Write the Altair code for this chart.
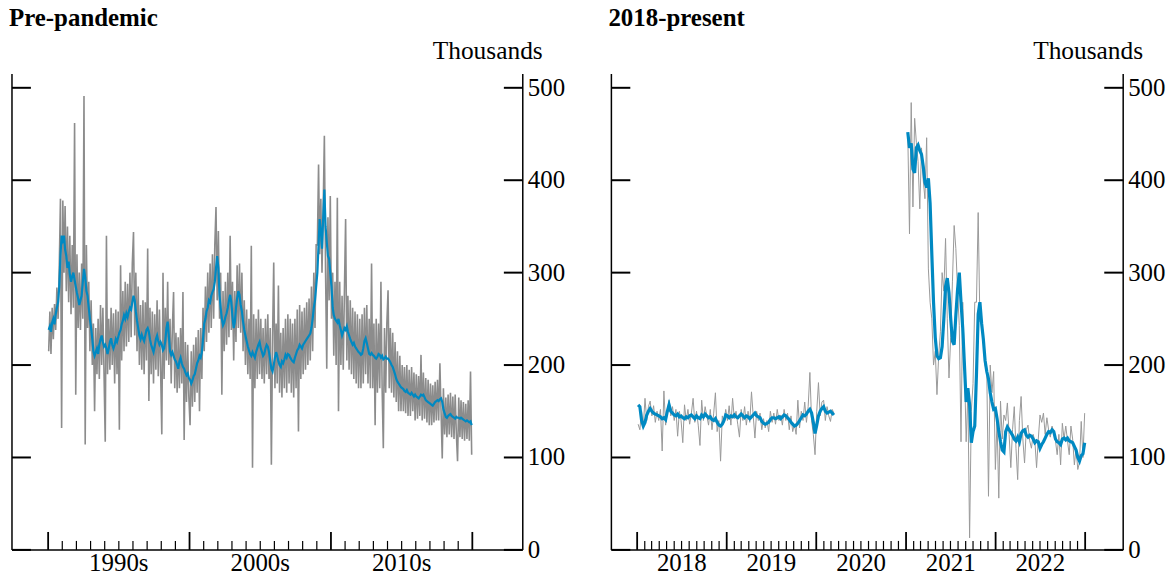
import altair as alt
import pandas as pd

FONT = "Liberation Serif"
BLUE = "#0089c2"
GRAY = "#8c8c8c"

# ---------------- data: pre-pandemic (monthly readings, thousands) ----------------
pre_gray = [
    215, 258, 212, 262, 228, 266, 238, 284, 250, 305, 380, 132,
    378, 300, 372, 280, 350, 268, 340, 255, 330, 262, 462, 168,
    320, 240, 300, 238, 310, 250, 491, 114, 330, 240, 290, 215,
    270, 200, 245, 150, 240, 190, 250, 185, 265, 200, 262, 190,
    117, 340, 190, 250, 195, 262, 200, 256, 180, 260, 190, 258,
    130, 308, 205, 280, 215, 290, 220, 288, 225, 300, 230, 310,
    344, 232, 300, 215, 285, 200, 265, 195, 270, 190, 268, 205,
    326, 161, 262, 190, 258, 180, 255, 195, 270, 188, 260, 195,
    125, 300, 185, 262, 205, 290, 200, 250, 180, 240, 279, 175,
    235, 170, 230, 175, 240, 180, 279, 119, 225, 160, 222, 165,
    135, 215, 155, 222, 160, 230, 170, 238, 150, 240, 185, 262,
    215, 285, 225, 300, 235, 310, 240, 320, 250, 330, 371, 270,
    345, 250, 300, 168, 280, 215, 290, 222, 300, 230, 340, 238,
    290, 205, 280, 225, 308, 240, 310, 235, 300, 215, 270, 200,
    260, 190, 250, 185, 329, 89, 255, 175, 250, 185, 260, 190,
    250, 185, 240, 180, 250, 190, 255, 185, 240, 92, 230, 311,
    175, 245, 180, 286, 170, 235, 165, 240, 175, 250, 170, 255,
    180, 250, 170, 245, 165, 250, 175, 260, 128, 265, 185, 258,
    190, 262, 195, 268, 200, 272, 205, 285, 215, 300, 240, 330,
    330, 417, 320, 380, 300, 370, 448, 300, 196, 360, 270, 383,
    250, 300, 210, 290, 200, 381, 150, 290, 200, 275, 195, 280,
    358, 205, 275, 195, 270, 190, 262, 185, 258, 180, 255, 175,
    250, 175, 255, 180, 262, 190, 265, 180, 250, 175, 310, 175,
    245, 135, 250, 170, 245, 175, 290, 175, 110, 240, 170, 245,
    281, 175, 240, 170, 235, 165, 225, 160, 215, 150, 210, 150,
    200, 150, 198, 148, 200, 145, 195, 145, 198, 150, 192, 140,
    190, 142, 188, 145, 211, 140, 192, 142, 186, 138, 184, 135,
    180, 135, 178, 138, 182, 140, 184, 140, 202, 150, 99, 175,
    125, 165, 122, 168, 125, 170, 122, 166, 120, 168, 125, 96,
    165, 122, 162, 120, 160, 118, 158, 120, 162, 118, 193, 103,
]

pre_blue = [
    238, 242, 236, 246, 250, 244, 255, 262, 268, 285, 318, 340,
    335, 340, 325, 318, 305, 312, 298, 290, 296, 300, 292, 285,
    278, 272, 265, 270, 275, 290, 304, 295, 280, 275, 262, 250,
    240, 228, 215, 210, 214, 218, 212, 222, 228, 232, 225, 220,
    222, 218, 212, 218, 225, 229, 222, 218, 222, 228, 225, 230,
    235, 238, 244, 248, 254, 250, 256, 252, 258, 262, 260, 268,
    275, 270, 258, 248, 240, 232, 228, 233, 229, 226, 232, 238,
    240, 236, 228, 222, 218, 214, 220, 228, 232, 226, 222, 225,
    222, 216, 218, 226, 240, 247, 232, 215, 211, 214, 210, 206,
    204, 200, 196, 204, 208, 202, 198, 196, 192, 189, 191, 186,
    184, 180, 183, 188, 190, 196, 202, 205, 210, 208, 214, 228,
    245, 250, 258, 262, 270, 268, 275, 279, 282, 290, 305, 318,
    305, 275, 262, 250, 243, 246, 252, 256, 262, 270, 276, 268,
    252, 240, 246, 262, 272, 280, 276, 265, 258, 247, 238, 232,
    226, 220, 216, 212, 210, 214, 211, 208, 214, 218, 222, 225,
    218, 214, 210, 212, 218, 222, 220, 214, 205, 196, 193, 200,
    208, 214, 210, 204, 200, 198, 204, 202, 206, 211, 208, 212,
    211, 208, 206, 204, 203, 208, 212, 216, 218, 222, 220, 218,
    222, 224, 226, 228, 230, 232, 234, 240, 250, 262, 270, 285,
    300, 330, 358, 345, 326, 360, 390, 350, 333, 318, 315, 300,
    285, 262, 254, 250, 248, 246, 250, 243, 238, 232, 236, 240,
    238, 242, 236, 232, 228, 225, 222, 224, 220, 218, 216, 214,
    213, 211, 212, 218, 226, 229, 224, 218, 212, 211, 213, 211,
    210, 208, 207, 209, 212, 211, 208, 210, 206, 207, 209, 207,
    207, 205, 203, 200, 198, 194, 190, 185, 182, 180, 178, 176,
    175, 174, 172, 171, 173, 170, 169, 168, 170, 168, 166, 168,
    166, 165, 164, 166, 168, 167, 168, 165, 162, 161, 160, 159,
    158, 157, 156, 158, 160, 161, 162, 161, 163, 164, 160, 152,
    148, 144, 143, 145, 146, 147, 145, 144, 143, 142, 144, 143,
    143, 142, 143, 142, 141, 140, 139, 140, 139, 138, 139, 135,
]

# ---------------- data: 2018-present (weekly readings, thousands) ----------------
post1_gray = [
    136, 130, 150, 133, 164, 140, 155, 161, 145, 156, 138, 150, 140, 152, 107, 172,
    135, 150, 162, 145, 155, 140, 152, 123, 150, 140, 116, 157, 140, 152, 136, 148,
    164, 138, 150, 135, 113, 162, 140, 155, 145, 135, 152, 130, 148, 170, 128, 140,
    96, 145, 138, 152, 140, 156, 135, 164, 142, 150, 136, 122, 152, 140, 155, 135,
    150, 138, 171, 145, 121, 150, 140, 148, 130, 142, 132, 140, 128, 150, 138, 148,
    136, 152, 140, 146, 135, 152, 140, 148, 130, 145, 128, 136, 125, 162, 132, 150,
    140, 160, 138, 155, 192, 140, 125, 103, 150, 181, 145, 160, 162, 140, 155, 145,
    139, 152, 148,
]
post1_blue = [
    157, 155, 140, 134, 138, 146, 150, 153, 150, 148, 147, 146, 145, 144, 142, 143,
    141, 150, 157, 150, 148, 146, 145, 147, 144, 145, 143, 142, 144, 143, 145, 146,
    144, 142, 145, 143, 142, 146, 144, 147, 145, 143, 144, 141, 140, 142, 138, 135,
    134, 136, 140, 146, 145, 143, 145, 144, 146, 144, 143, 145, 147, 145, 143, 145,
    144, 142, 144, 146, 148, 145, 144, 143, 139, 137, 136, 137, 138, 141, 143, 143,
    142, 143, 144, 142, 144, 146, 145, 143, 141, 138, 136, 134, 135, 137, 140, 143,
    146, 145, 147, 150, 152, 148, 138, 126, 135, 145, 150, 153, 155, 150, 148, 149,
    150, 148, 146,
]
post2_gray = [
    451, 342, 484, 371, 467, 441, 420, 369, 435, 400, 380, 446, 304, 268, 250, 200,
    215, 168, 210, 236, 300, 280, 337, 250, 186, 230, 290, 351, 326, 280, 243, 117,
    268, 200, 117, 170, 13, 150, 180, 268, 268, 365, 247, 250, 230, 200, 193, 58,
    200, 170, 193, 87, 140, 56, 161, 120, 146, 140, 159, 125, 89, 130, 155, 110,
    76, 140, 166, 120, 94, 130, 135, 118, 110, 125, 118, 89, 120, 146, 138, 148,
    125, 143, 130, 122, 134, 128, 118, 103, 125, 92, 137, 120, 134, 118, 103, 134,
    120, 92, 110, 87, 95, 139, 100, 148,
]
post2_blue = [
    452, 435, 440, 412, 408, 435, 438, 432, 428, 415, 398, 392, 402, 375, 320, 268,
    230, 210, 207, 208, 220, 250, 285, 294, 278, 250, 226, 222, 254, 282, 300, 268,
    240, 200, 160, 175, 157, 116, 128, 134, 190, 255, 268, 245, 228, 205, 193, 185,
    170, 160, 152, 153, 142, 128, 117, 108, 106, 128, 133, 130, 127, 124, 120, 118,
    122, 117, 126, 129, 130, 124, 122, 124, 123, 120, 116, 118, 117, 110, 114, 117,
    121, 125, 128, 127, 130, 128, 120, 117, 116, 114, 120, 121, 119, 121, 118, 117,
    116, 112, 108, 100, 96, 102, 104, 116,
]

# axis content
Y_TICKS = [0, 100, 200, 300, 400, 500]
Y_TOP = 515
PRE_MAJOR_YEARS = [1990, 2000, 2010, 2020]
PRE_MINOR_YEARS = [y for y in range(1991, 2020) if y % 10 != 0]
PRE_LABELS = ["1990s", "2000s", "2010s"]
PRE_LABEL_DATES = ["1995-01-01", "2005-01-01", "2015-01-01"]
POST_MAJOR_YEARS = [2018, 2019, 2020, 2021, 2022, 2023]
POST_MINOR_MONTHS = [(y, m) for y in range(2018, 2023) for m in range(2, 13)]
POST_LABELS = ["2018", "2019", "2020", "2021", "2022"]
POST_LABEL_DATES = ["2018-07-02", "2019-07-02", "2020-07-02", "2021-07-02", "2022-07-02"]
UNIT_LABEL = "Thousands"

H = 478
W_LEFT = 513
W_RIGHT = 514

# ---------------- frames ----------------
pre_dates = pd.date_range("1990-01-01", periods=len(pre_gray), freq="MS") + pd.Timedelta(days=14)
pre_gray_df = pd.DataFrame({"date": pre_dates, "value": pre_gray, "seg": "a"})
pre_blue_df = pd.DataFrame({"date": pre_dates[:len(pre_blue)], "value": pre_blue, "seg": "a"})

d1 = pd.date_range("2018-01-05", periods=len(post1_gray), freq="W-FRI")
d2 = pd.date_range("2021-01-08", periods=len(post2_gray), freq="W-FRI")
post_gray_df = pd.concat([
    pd.DataFrame({"date": d1, "value": post1_gray, "seg": "a"}),
    pd.DataFrame({"date": d2, "value": post2_gray, "seg": "b"}),
])
post_blue_df = pd.concat([
    pd.DataFrame({"date": d1[:len(post1_blue)], "value": post1_blue, "seg": "a"}),
    pd.DataFrame({"date": d2[:len(post2_blue)], "value": post2_blue, "seg": "b"}),
])

pre_major_df = pd.DataFrame({"date": pd.to_datetime([f"{y}-01-01" for y in PRE_MAJOR_YEARS])})
pre_minor_df = pd.DataFrame({"date": pd.to_datetime([f"{y}-01-01" for y in PRE_MINOR_YEARS])})
post_major_df = pd.DataFrame({"date": pd.to_datetime([f"{y}-01-01" for y in POST_MAJOR_YEARS])})
post_minor_df = pd.DataFrame({"date": pd.to_datetime([f"{y}-{m:02d}-01" for y, m in POST_MINOR_MONTHS])})
pre_label_df = pd.DataFrame({"date": pd.to_datetime(PRE_LABEL_DATES), "label": PRE_LABELS})
post_label_df = pd.DataFrame({"date": pd.to_datetime(POST_LABEL_DATES), "label": POST_LABELS})
ytick_df = pd.DataFrame({"v": Y_TICKS})
one_df = pd.DataFrame({"a": [0]})


def panel(title, gray_df, blue_df, x_domain, major_df, minor_df, label_df,
          W, gray_w, blue_w, gray_col):
    xs = alt.Scale(domain=x_domain)
    ys = alt.Scale(domain=[0, Y_TOP], nice=False, zero=True)
    X = lambda: alt.X("date:T", scale=xs, axis=None)
    gray = alt.Chart(gray_df).mark_line(color=gray_col, strokeWidth=gray_w).encode(
        x=X(), y=alt.Y("value:Q", scale=ys, axis=None), detail="seg:N")
    blue = alt.Chart(blue_df).mark_line(color=BLUE, strokeWidth=blue_w).encode(
        x=X(), y=alt.Y("value:Q", scale=ys, axis=None), detail="seg:N")
    base1 = alt.Chart(one_df)
    left_line = base1.mark_rule(color="black", strokeWidth=1.5).encode(
        x=alt.value(0), y=alt.value(0), y2=alt.value(H))
    right_line = base1.mark_rule(color="black", strokeWidth=1.5).encode(
        x=alt.value(W), y=alt.value(0), y2=alt.value(H))
    bottom_line = base1.mark_rule(color="black", strokeWidth=1.5).encode(
        x=alt.value(0), x2=alt.value(W), y=alt.value(H))
    yt_left = alt.Chart(ytick_df).mark_rule(color="black", strokeWidth=2).encode(
        y=alt.Y("v:Q", scale=ys, axis=None), x=alt.value(0), x2=alt.value(19))
    yt_right = alt.Chart(ytick_df).mark_rule(color="black", strokeWidth=2).encode(
        y=alt.Y("v:Q", scale=ys, axis=None), x=alt.value(W - 19), x2=alt.value(W))
    y_labels = alt.Chart(ytick_df).mark_text(
        align="left", baseline="middle", font=FONT, fontSize=25, color="black", dx=5
    ).encode(y=alt.Y("v:Q", scale=ys, axis=None), x=alt.value(W), text=alt.Text("v:Q", format="d"))
    xt_major = alt.Chart(major_df).mark_rule(color="black", strokeWidth=1.8).encode(
        x=X(), y=alt.value(H), y2=alt.value(H - 18))
    xt_minor = alt.Chart(minor_df).mark_rule(color="black", strokeWidth=1.2).encode(
        x=X(), y=alt.value(H), y2=alt.value(H - 9))
    x_labels = alt.Chart(label_df).mark_text(
        align="center", baseline="top", font=FONT, fontSize=25, color="black", dy=1
    ).encode(x=X(), y=alt.value(H), text="label:N")
    unit = base1.mark_text(
        align="right", baseline="alphabetic", font=FONT, fontSize=25.5, color="black"
    ).encode(x=alt.value(W + 20), y=alt.value(-15), text=alt.value(UNIT_LABEL))
    ttl = base1.mark_text(
        align="left", baseline="alphabetic", font=FONT, fontSize=25, fontWeight="bold", color="black"
    ).encode(x=alt.value(-3), y=alt.value(-48), text=alt.value(title))
    return alt.layer(gray, blue, left_line, right_line, bottom_line, yt_left, yt_right,
                     y_labels, xt_major, xt_minor, x_labels, unit, ttl).properties(width=W, height=H)


left = panel(
    "Pre-pandemic", pre_gray_df, pre_blue_df,
    [alt.DateTime(year=1987, month=6, date=12), alt.DateTime(year=2023, month=7, date=27)],
    pre_major_df, pre_minor_df, pre_label_df,
    W_LEFT, 1.6, 2.2, GRAY,
)
right = panel(
    "2018-present", post_gray_df, post_blue_df,
    [alt.DateTime(year=2017, month=9, date=18), alt.DateTime(year=2023, month=6, date=5)],
    post_major_df, post_minor_df, post_label_df,
    W_RIGHT, 1.0, 3.2, "#999999",
)

chart = alt.hconcat(left, right, spacing=43).configure_view(strokeWidth=0).properties(
    padding={"left": 1, "top": -3, "right": 0, "bottom": 0},
    background="white",
)

chart.save("out.html", embed_options={"renderer": "svg", "actions": False})
